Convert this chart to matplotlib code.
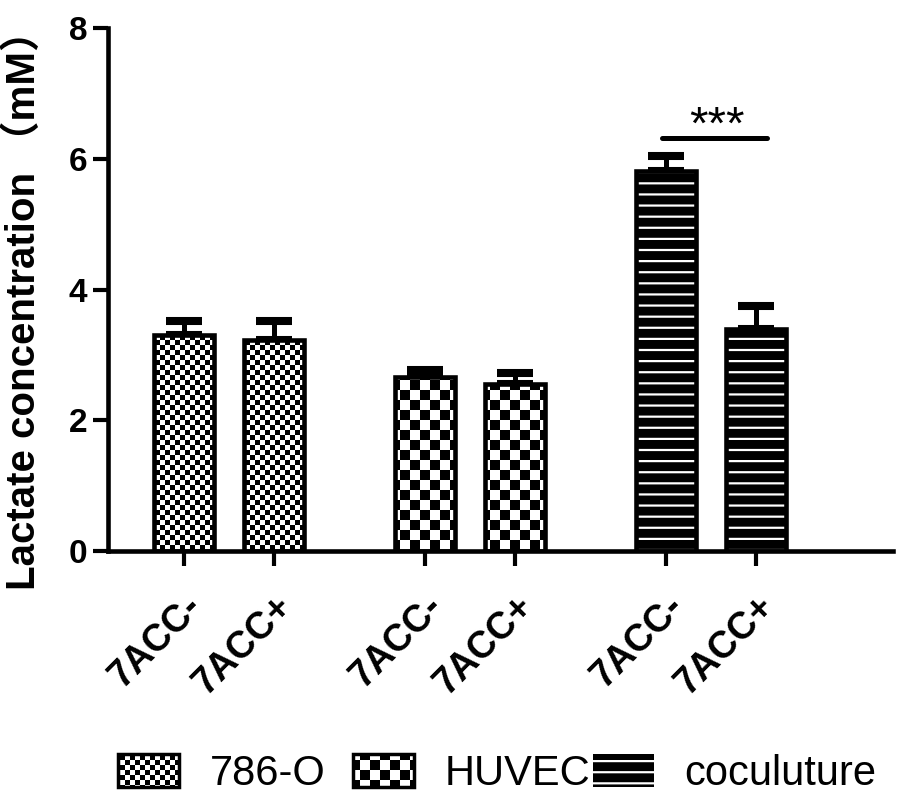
import warnings
warnings.filterwarnings("ignore")
import numpy as np
import matplotlib
matplotlib.use("Agg")
import matplotlib.pyplot as plt
import matplotlib.hatch as mhatch
from matplotlib.path import Path
from matplotlib.patches import Rectangle

# ---------------- data ----------------
groups = ["786-O", "HUVEC", "coculuture"]
conditions = ["7ACC-", "7ACC+"]
tick_labels = ["7ACC-", "7ACC+", "7ACC-", "7ACC+", "7ACC-", "7ACC+"]
means_786O = [3.30, 3.23]
errs_786O = [0.22, 0.29]
means_HUVEC = [2.66, 2.56]
errs_HUVEC = [0.11, 0.16]
means_cocult = [5.81, 3.40]
errs_cocult = [0.23, 0.35]
sig_label = "***"
sig_y = 6.32
y_ticks = [0, 2, 4, 6, 8]
y_label = "Lactate concentration （mM）"


# ---------------- custom hatches ----------------
class CheckerHatch(mhatch.HatchPatternBase):
    def __init__(self, hatch, density):
        if 'c' in hatch:
            self.n = 20
        elif 'k' in hatch:
            self.n = 10
        else:
            self.n = 0
        self.cells = [(i, j) for i in range(self.n) for j in range(self.n)
                      if (i + j) % 2 == 0]
        self.num_vertices = len(self.cells) * 5

    def set_vertices_and_codes(self, vertices, codes):
        s = 1.0 / self.n
        k = 0
        for (i, j) in self.cells:
            x0, y0 = i * s, j * s
            vertices[k:k + 5] = [(x0, y0), (x0 + s, y0), (x0 + s, y0 + s),
                                 (x0, y0 + s), (x0, y0)]
            codes[k:k + 5] = [Path.MOVETO, Path.LINETO, Path.LINETO,
                              Path.LINETO, Path.CLOSEPOLY]
            k += 5


class StripeHatch(mhatch.HatchPatternBase):
    def __init__(self, hatch, density):
        self.n = 9 if 's' in hatch else 0
        self.num_vertices = self.n * 5

    def set_vertices_and_codes(self, vertices, codes):
        step = 1.0 / max(self.n, 1)
        h = 0.022
        for i in range(self.n):
            y0 = i * step + step / 2 - h / 2
            k = i * 5
            vertices[k:k + 5] = [(-0.05, y0), (1.05, y0), (1.05, y0 + h),
                                 (-0.05, y0 + h), (-0.05, y0)]
            codes[k:k + 5] = [Path.MOVETO, Path.LINETO, Path.LINETO,
                              Path.LINETO, Path.CLOSEPOLY]


mhatch._hatch_types.append(CheckerHatch)
mhatch._hatch_types.append(StripeHatch)

plt.rcParams['hatch.linewidth'] = 0.0
plt.rcParams['font.family'] = ['Liberation Sans', 'Noto Sans CJK SC', 'DejaVu Sans']

# ---------------- layout ----------------
fig = plt.figure(figsize=(8.98, 7.98), dpi=100)
ax = fig.add_axes([108 / 898, 1 - 551 / 798, (893 - 108) / 898, (551 - 28) / 798])

group_gap = 2.678
x_786O = np.array([0, 1]) + 0 * group_gap
x_HUVEC = np.array([0, 1]) + 1 * group_gap
x_cocult = np.array([0, 1]) + 2 * group_gap
width = 0.66
lw = 3.3

err_kw = dict(fmt='none', ecolor='black', elinewidth=3.6, capsize=13,
              capthick=5.8, zorder=1)
for xs, ms, es in [(x_786O, means_786O, errs_786O),
                   (x_HUVEC, means_HUVEC, errs_HUVEC),
                   (x_cocult, means_cocult, errs_cocult)]:
    ax.errorbar(xs, ms, yerr=[np.zeros(len(es)), es], **err_kw)

ax.bar(x_786O, means_786O, width, facecolor='white', edgecolor='black',
       linewidth=lw, hatch='c', zorder=2)
ax.bar(x_HUVEC, means_HUVEC, width, facecolor='white', edgecolor='black',
       linewidth=lw, hatch='k', zorder=2)
ax.bar(x_cocult, means_cocult, width, facecolor='black', edgecolor='white',
       linewidth=0, hatch='s', zorder=2)
ax.bar(x_cocult, means_cocult, width, fill=False, edgecolor='black',
       linewidth=lw, zorder=3)

# significance
ax.plot([x_cocult[0] - 0.05, x_cocult[1] + 0.12], [sig_y, sig_y], color='black',
        lw=3.6, solid_capstyle='round', zorder=3)
ax.text((x_cocult[0] + x_cocult[1]) / 2 + 0.07, sig_y - 0.02, sig_label,
        ha='center', va='baseline', fontsize=34, color='black')

# axes styling
ax.set_ylim(0, 8)
ax.set_xlim(-0.844, 7.878)
ax.set_yticks(y_ticks)
ax.set_yticklabels([str(t) for t in y_ticks], fontsize=24, fontweight='bold')
all_x = np.concatenate([x_786O, x_HUVEC, x_cocult])
ax.set_xticks(all_x)
ax.set_xticklabels(tick_labels, fontsize=27, fontweight='bold', rotation=45,
                   ha='right', rotation_mode='anchor')
for s in ['top', 'right']:
    ax.spines[s].set_visible(False)
for s in ['left', 'bottom']:
    ax.spines[s].set_linewidth(3.3)
ax.tick_params(axis='both', length=11, width=3.0, color='black')
ax.tick_params(axis='x', pad=16)
ax.tick_params(axis='y', pad=4)

fig.text(24 / 898, 1 - 300 / 798, y_label, rotation=90, ha='center', va='center',
         fontsize=29, fontweight='bold')

# legend (three separate entries to match spacing)
handles = [
    Rectangle((0, 0), 1, 1, facecolor='white', edgecolor='black', linewidth=2.5, hatch='c'),
    Rectangle((0, 0), 1, 1, facecolor='white', edgecolor='black', linewidth=2.5, hatch='k'),
    Rectangle((0, 0), 1, 1, facecolor='black', edgecolor='white', linewidth=0, hatch='s'),
]
lefts = [118, 353, 593]
for h, g, lx in zip(handles, groups, lefts):
    fig.legend([h], [g], loc='center left', bbox_to_anchor=(lx / 898, 1 - 774 / 798),
               frameon=False, fontsize=30, handlelength=1.46, handleheight=0.82,
               handletextpad=0.74, borderpad=0, borderaxespad=0)

fig.savefig("out.png", dpi=100)
